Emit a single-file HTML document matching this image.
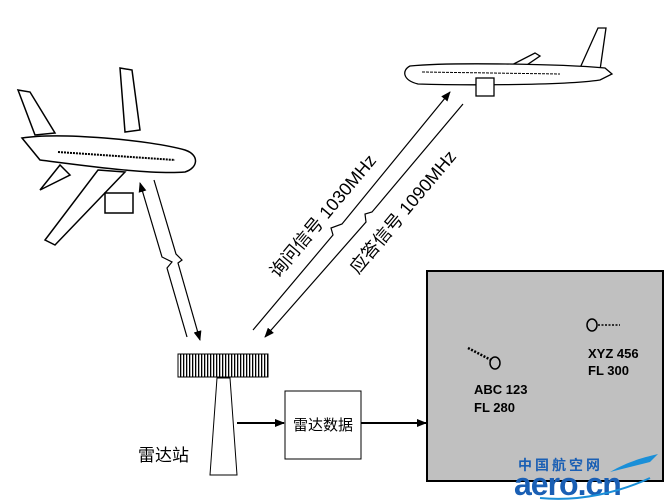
<!DOCTYPE html>
<html><head><meta charset="utf-8"><style>html,body{margin:0;padding:0;background:#fff}svg{display:block}</style></head>
<body>
<svg width="670" height="502" viewBox="0 0 670 502" xmlns="http://www.w3.org/2000/svg" font-family="Liberation Sans, Noto Sans CJK SC, sans-serif">
<defs>
<marker id="ah" markerWidth="10" markerHeight="8" refX="9" refY="4" orient="auto" markerUnits="userSpaceOnUse"><path d="M0,0 L10,4 L0,8 Z" fill="#000"/></marker>
<pattern id="st" width="3" height="10" patternUnits="userSpaceOnUse"><rect width="3" height="10" fill="#fff"/><rect width="1.3" height="10" fill="#000"/></pattern>
</defs>
<!-- left plane -->
<g fill="#fff" stroke="#000" stroke-width="1.5">
<path d="M60,165 L40,190 L70,175 Z"/>
<path d="M18,90 L30,92 L55,133 L35,135 Z"/>
<path d="M120,68 L132,70 L140,130 L125,132 Z"/>
<path d="M98,170 L125,172 L55,245 L45,240 Z"/>
<path d="M22,138 C60,132 150,140 185,150 C200,155 198,168 185,172 C150,175 80,165 40,160 Z"/>
<rect x="105" y="193" width="28" height="20"/>
</g>
<path d="M58,152 L175,160" stroke="#000" stroke-width="2" stroke-dasharray="2,1"/>
<!-- right plane -->
<g fill="#fff" stroke="#000" stroke-width="1.3">
<path d="M580,68 L598,28 L606,28 L600,70 Z"/>
<path d="M502,70 L535,53 L540,56 L515,73 Z"/>
<path d="M410,66 C450,62 560,64 605,68 L612,74 L600,80 C560,86 450,85 418,84 C402,80 402,70 410,66 Z"/>
<rect x="476" y="78" width="18" height="18"/>
</g>
<path d="M422,72 L560,74" stroke="#000" stroke-width="1" stroke-dasharray="3,1"/>
<!-- links -->
<g fill="none" stroke="#000" stroke-width="1.2">
<path d="M187,337 L167,268 L172,262 L162,257 L140,183" marker-end="url(#ah)"/>
<path d="M154,180 L176,254 L182,260 L178,263 L200,340" marker-end="url(#ah)"/>
<path d="M253,330 L333,235 L331,228 L342,224 L450,92" marker-end="url(#ah)"/>
<path d="M463,104 L372,212 L365,214 L366,222 L265,337" marker-end="url(#ah)"/>
</g>
<text x="323" y="222" font-size="18" text-anchor="middle" transform="rotate(-50 323 216)">询问信号 1030MHz</text>
<text x="403" y="218" font-size="18" text-anchor="middle" transform="rotate(-50 403 212)">应答信号 1090MHz</text>
<!-- radar -->
<rect x="178" y="354" width="90" height="23" fill="url(#st)" stroke="#000"/>
<path d="M217,378 L230,378 L237,475 L210,475 Z" fill="#fff" stroke="#000"/>
<text x="138" y="461" font-size="17">雷达站</text>
<line x1="237" y1="423" x2="284" y2="423" stroke="#000" stroke-width="2" marker-end="url(#ah)"/>
<rect x="285" y="391" width="76" height="68" fill="#fff" stroke="#000"/>
<text x="323" y="430" font-size="15" text-anchor="middle">雷达数据</text>
<line x1="361" y1="423" x2="426" y2="423" stroke="#000" stroke-width="2" marker-end="url(#ah)"/>
<!-- display -->
<rect x="427" y="271" width="236" height="210" fill="#c0c0c0" stroke="#000" stroke-width="2"/>
<line x1="468" y1="348" x2="491" y2="360" stroke="#000" stroke-width="2.5" stroke-dasharray="2,1.5"/>
<ellipse cx="495" cy="363" rx="5" ry="6" fill="none" stroke="#000" stroke-width="1.5"/>
<text x="474" y="394" font-size="13" font-weight="bold">ABC 123</text>
<text x="474" y="412" font-size="13" font-weight="bold">FL 280</text>
<ellipse cx="592" cy="325" rx="5" ry="6" fill="none" stroke="#000" stroke-width="1.5"/>
<line x1="598" y1="325" x2="620" y2="325" stroke="#000" stroke-width="1.5" stroke-dasharray="2,1.5"/>
<text x="588" y="358" font-size="13" font-weight="bold">XYZ 456</text>
<text x="588" y="375" font-size="13" font-weight="bold">FL 300</text>
<!-- logo -->
<text x="518" y="470" font-size="14" font-weight="bold" fill="#1a5fb4" letter-spacing="3">中国航空网</text>
<path d="M610,472 C630,460 650,456 658,454 L650,462 Z" fill="#1a8fd8"/>
<text x="514" y="495" font-size="32" font-weight="bold" fill="#1a5fb4" letter-spacing="-1">aero.cn</text>
<path d="M540,498 C580,502 620,492 650,478" fill="none" stroke="#1a8fd8" stroke-width="2"/>
</svg>
</body></html>
